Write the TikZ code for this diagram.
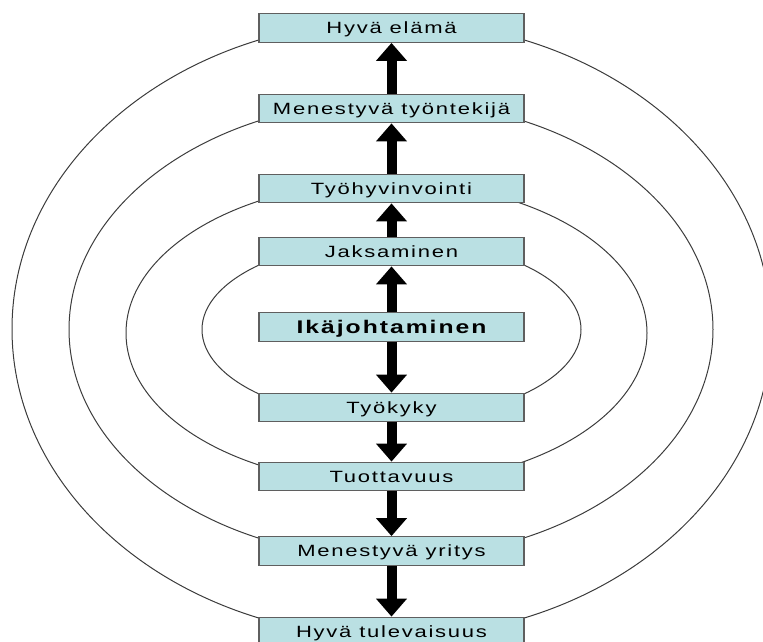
\documentclass[tikz,border=0pt]{standalone}
\usepackage{fontspec}
\setmainfont{Liberation Sans}[LetterSpace=8]
\usetikzlibrary{arrows.meta}
\definecolor{boxfill}{RGB}{186,224,227}
\definecolor{boxline}{RGB}{95,95,95}
\definecolor{ringline}{RGB}{60,60,60}
\newcommand{\widetext}[1]{\scalebox{1.35}[1]{#1}}
\begin{document}
\begin{tikzpicture}[x=1pt,y=-1pt,
    box/.style={draw=boxline,line width=1.3pt,fill=boxfill,minimum width=265pt,
      minimum height=28.5pt,inner sep=0pt,text height=11.7pt,text depth=0pt,
      font=\fontsize{16.3}{19}\selectfont},
    bigarrow/.style={line width=10pt,-{Triangle[width=30pt,length=18pt]}},
    ring/.style={draw=ringline,line width=1pt}]
    \clip (0,0) rectangle (763,642);

    % --- Rings ---
    \foreach \cx/\cy/\rx/\ry in {391.5/329/379.5/308.4, 391/329.5/322/228.8,
                                 386.5/333/260.5/151.4, 391.5/329.5/189.5/90.2} {
      \draw[ring] (\cx,\cy) ellipse [x radius=\rx pt, y radius=\ry pt];
    }

    % --- Boxes ---
    \node[box] (elama) at (391.5, 28) {\widetext{Hyvä elämä}};
    \node[box] (tyontekija) at (391.5, 108.5) {\widetext{Menestyvä työntekijä}};
    \node[box] (hyvinvointi) at (391.5, 188.5) {\widetext{Työhyvinvointi}};
    \node[box] (jaksaminen) at (391.5, 251.5) {\widetext{Jaksaminen}};
    \node[box,text height=13.1pt,font=\fontsize{18.3}{21}\selectfont\bfseries] (ika) at (391.5, 327) {\widetext{Ikäjohtaminen}};
    \node[box] (tyokyky) at (391.5, 407.5) {\widetext{Työkyky}};
    \node[box] (tuottavuus) at (391.5, 476.5) {\widetext{Tuottavuus}};
    \node[box] (yritys) at (391.5, 551) {\widetext{Menestyvä yritys}};
    \node[box] (tulevaisuus) at (391.5, 631.5) {\widetext{Hyvä tulevaisuus}};

    % --- Upwards ---
    \draw[bigarrow] (ika) -- (jaksaminen);
    \draw[bigarrow] (jaksaminen) -- (hyvinvointi);
    \draw[bigarrow] (hyvinvointi) -- (tyontekija);
    \draw[bigarrow] (tyontekija) -- (elama);

    % --- Downwards ---
    \draw[bigarrow] (ika) -- (tyokyky);
    \draw[bigarrow] (tyokyky) -- (tuottavuus);
    \draw[bigarrow] (tuottavuus) -- (yritys);
    \draw[bigarrow] (yritys) -- (tulevaisuus);

\end{tikzpicture}
\end{document}
